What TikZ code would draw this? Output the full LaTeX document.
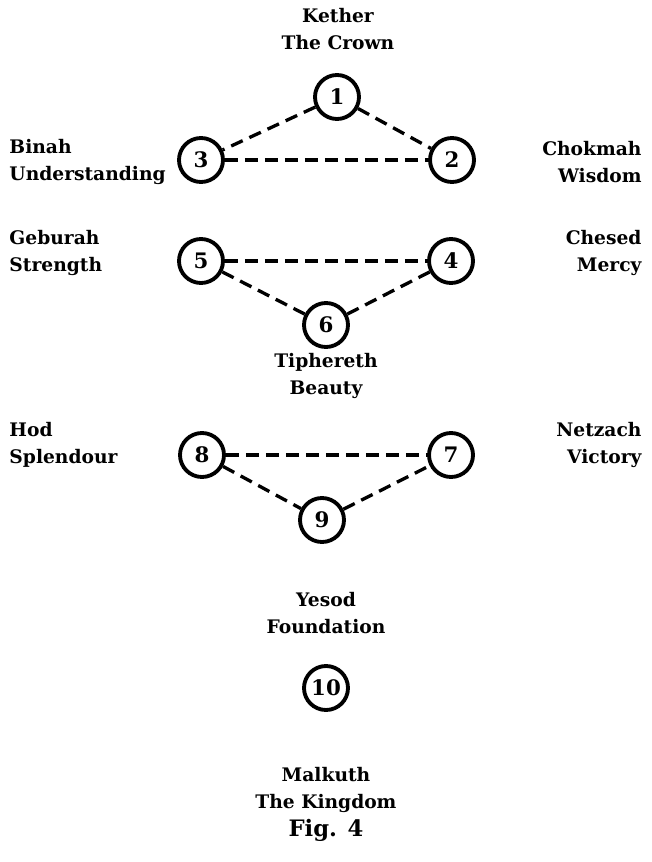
\documentclass[tikz,border=0pt]{standalone}
\usepackage{fontspec}
\setmainfont{DejaVu Serif}
\tikzset{every picture/.style={line width=0.75pt}}
\tikzset{
  sephirah/.style={draw, circle, line width=2.9pt, minimum size=33pt, inner sep=0pt, font=\bfseries\fontsize{16}{16}\selectfont},
  link/.style={line width=2.5pt, dash pattern=on 9.5pt off 5.5pt},
  lbl/.style={inner sep=0.75pt, font=\bfseries\fontsize{14}{20}\selectfont}
}

\begin{document}
\begin{tikzpicture}[x=0.75pt,y=0.75pt,yscale=-1,xscale=1]
\useasboundingbox (0,0) rectangle (651,862);

%Shape: Circle [id:kether] 
\node [sephirah] (c1) at (337,97) {1};
%Shape: Circle [id:chokmah] 
\node [sephirah] (c2) at (452,160) {2};
%Shape: Circle [id:binah] 
\node [sephirah] (c3) at (201,160) {3};
%Shape: Circle [id:chesed] 
\node [sephirah] (c4) at (451,261) {4};
%Shape: Circle [id:geburah] 
\node [sephirah] (c5) at (201,261) {5};
%Shape: Circle [id:tiphereth] 
\node [sephirah] (c6) at (326,325) {6};
%Shape: Circle [id:netzach] 
\node [sephirah] (c7) at (451,455) {7};
%Shape: Circle [id:hod] 
\node [sephirah] (c8) at (202,455) {8};
%Shape: Circle [id:yesod] 
\node [sephirah] (c9) at (322,520) {9};
%Shape: Circle [id:malkuth] 
\node [sephirah] (c10) at (326,688) {10};

%Dashed Lines [id:upper] 
\draw [link] (c1) -- (c3) ;
\draw [link] (c1) -- (c2) ;
\draw [link] (c3) -- (c2) ;
%Dashed Lines [id:middle] 
\draw [link] (c5) -- (c4) ;
\draw [link] (c5) -- (c6) ;
\draw [link] (c6) -- (c4) ;
%Dashed Lines [id:lower] 
\draw [link] (c8) -- (c7) ;
\draw [link] (c8) -- (c9) ;
\draw [link] (c9) -- (c7) ;

% Text Node
\draw (338,29) node [anchor=center] [lbl] [align=center] (t1) {Kether\\The Crown};
% Text Node
\draw (8,162) node [anchor=west] [lbl] [align=left] (t3) {Binah\\Understanding};
% Text Node
\draw (643,162) node [anchor=east] [lbl] [align=right] (t2) {Chokmah\\Wisdom};
% Text Node
\draw (8,253) node [anchor=west] [lbl] [align=left] (t5) {Geburah\\Strength};
% Text Node
\draw (643,253) node [anchor=east] [lbl] [align=right] (t4) {Chesed\\Mercy};
% Text Node
\draw (326,376) node [anchor=center] [lbl] [align=center] (t6) {Tiphereth\\Beauty};
% Text Node
\draw (8,445) node [anchor=west] [lbl] [align=left] (t8) {Hod\\Splendour};
% Text Node
\draw (643,445) node [anchor=east] [lbl] [align=right] (t7) {Netzach\\Victory};
% Text Node
\draw (326,613) node [anchor=center] [lbl] [align=center] (t9) {Yesod\\Foundation};
% Text Node
\draw (326,790) node [anchor=center] [lbl] [align=center] (t10) {Malkuth\\The Kingdom};
% Text Node
\draw (326,830) node [anchor=center] [inner sep=0.75pt] [font=\bfseries\fontsize{17}{17}\selectfont] (fig) {Fig. 4};

\end{tikzpicture}
\end{document}
